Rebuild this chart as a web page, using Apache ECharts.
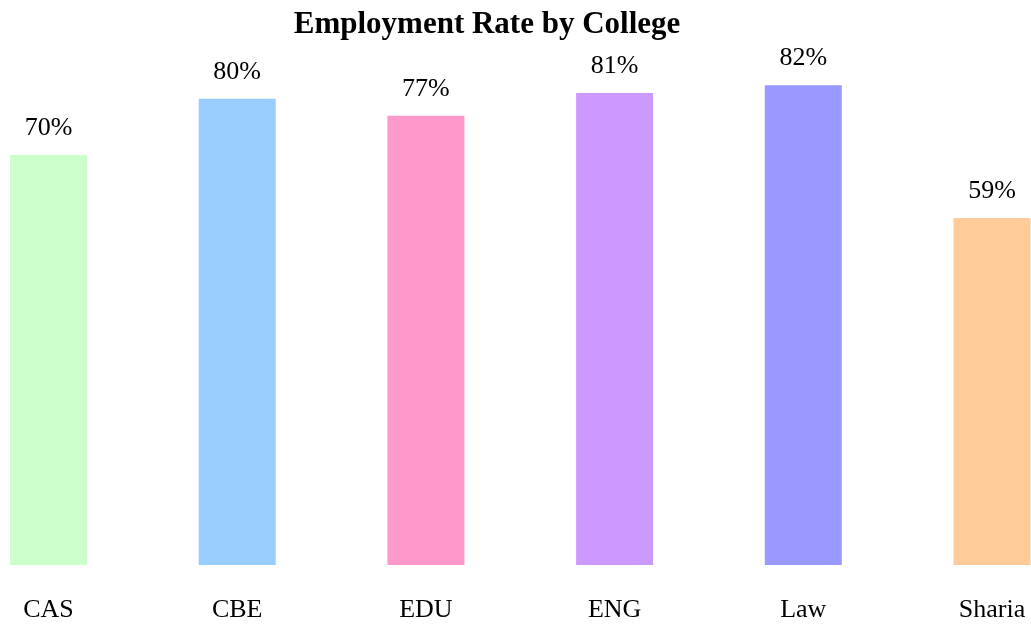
<!DOCTYPE html>
<html>
<head>
<meta charset="utf-8">
<script src="https://cdn.jsdelivr.net/npm/echarts@6/dist/echarts.min.js"></script>
<style>html,body{margin:0;padding:0;background:#fff;}#c{width:1031px;height:626px;}</style>
</head>
<body>
<div id="c"></div>
<script>
const categories = ['CAS', 'CBE', 'EDU', 'ENG', 'Law', 'Sharia'];
const rates = [70.1, 79.7, 76.8, 80.7, 82.0, 59.3];
const colors = ['#ccffcc', '#99ccff', '#ff99cc', '#cc99ff', '#9999ff', '#ffcc99'];
const titleText = 'Employment Rate by College';

const chart = echarts.init(document.getElementById('c'), null, {renderer: 'canvas'});
const font = '"Liberation Serif", "DejaVu Serif", serif';
chart.setOption({
  animation: false,
  backgroundColor: '#ffffff',
  title: {
    text: titleText,
    left: 482, textAlign: 'center', top: 4,
    textStyle: {fontFamily: font, fontWeight: 'bold', fontSize: 31, color: '#000'}
  },
  grid: {left: 48.5, right: 39, top: 38.5, bottom: 61, containLabel: false},
  xAxis: {
    type: 'category',
    data: categories,
    boundaryGap: false,
    axisLine: {show: false},
    axisTick: {show: false},
    splitLine: {show: false},
    axisLabel: {fontFamily: font, fontSize: 26, color: '#000', margin: 32, interval: 0}
  },
  yAxis: {
    type: 'value', min: 0, max: 90,
    show: false
  },
  series: [{
    type: 'bar',
    barWidth: 77,
    data: rates.map((v, i) => ({value: v, itemStyle: {color: colors[i]}})),
    label: {
      show: true, position: 'top', distance: 14,
      fontFamily: font, fontSize: 26, color: '#000',
      formatter: p => Math.round(p.value) + '%'
    }
  }]
});
</script>
</body>
</html>
